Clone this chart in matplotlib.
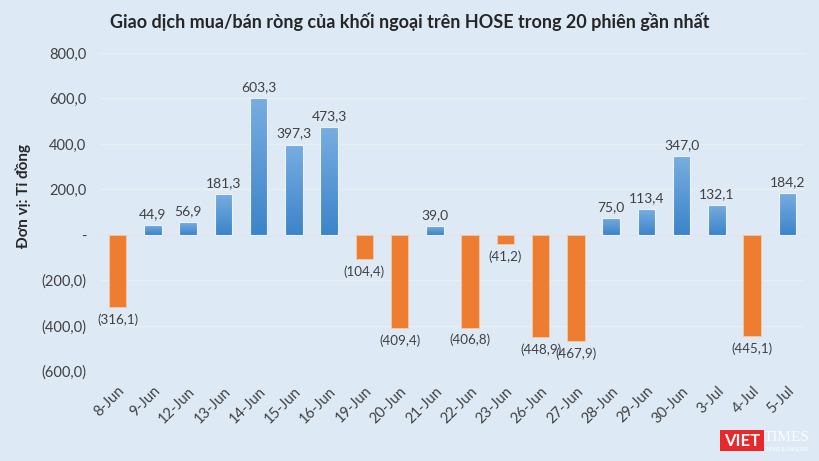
import matplotlib.pyplot as plt
import numpy as np
from matplotlib.patches import Rectangle

dates = ["8-Jun", "9-Jun", "12-Jun", "13-Jun", "14-Jun", "15-Jun", "16-Jun",
         "19-Jun", "20-Jun", "21-Jun", "22-Jun", "23-Jun", "26-Jun", "27-Jun",
         "28-Jun", "29-Jun", "30-Jun", "3-Jul", "4-Jul", "5-Jul"]
values = [-316.1, 44.9, 56.9, 181.3, 603.3, 397.3, 473.3, -104.4, -409.4, 39.0,
          -406.8, -41.2, -448.9, -467.9, 75.0, 113.4, 347.0, 132.1, -445.1, 184.2]
yticks = [-600, -400, -200, 0, 200, 400, 600, 800]

BG = "#DDEAF6"
ORANGE = "#ED7D31"
TXT = "#404040"


def fmt(v):
    s = f"{abs(v):.1f}".replace(".", ",")
    return f"({s})" if v < 0 else s


def main() -> None:
    plt.rcParams["font.family"] = ["Lato", "DejaVu Sans"]
    fig = plt.figure(figsize=(8.2, 4.61), dpi=100, facecolor=BG)
    ax = fig.add_axes([100 / 820, 1 - 371.5 / 461, 705 / 820, (371.5 - 53) / 461])
    ax.set_facecolor(BG)

    x = np.arange(len(dates))
    w = 0.49
    grad = np.linspace(0, 1, 100).reshape(-1, 1)
    blue_cmap = plt.matplotlib.colors.LinearSegmentedColormap.from_list(
        "b", ["#3C84CA", "#78ADE0"])
    for xi, v in zip(x, values):
        if v >= 0:
            rect = Rectangle((xi - w / 2, 0), w, v, facecolor="none",
                             edgecolor="#EAF2FA", linewidth=0.8, zorder=3)
            ax.add_patch(rect)
            im = ax.imshow(grad, extent=(xi - w / 2, xi + w / 2, 0, v),
                           origin="lower", aspect="auto", cmap=blue_cmap, zorder=2)
            im.set_clip_path(rect)
            ax.text(xi, v + 22, fmt(v), ha="center", va="bottom",
                    fontsize=10, color=TXT)
        else:
            ax.bar(xi, v, width=w, color=ORANGE, edgecolor="#F6C7A6",
                   linewidth=0.6, zorder=2)
            ax.text(xi, v - 28, fmt(v), ha="center", va="top",
                    fontsize=9.6, color=TXT)

    ax.set_xlim(-0.5, len(dates) - 0.5)
    ax.set_ylim(-600, 800)
    ax.set_yticks(yticks)
    ax.set_yticklabels(["-" if t == 0 else fmt(t) for t in yticks],
                       fontsize=10.5, color=TXT)
    for t in yticks:
        if t != 0:
            ax.axhline(t, color="#E9EEF3", linewidth=1.0, zorder=1)
    ax.axhline(0, color="#E4E4E8", linewidth=1.0, zorder=1)
    ax.vlines(np.arange(len(dates) + 1) - 0.5, 0, 10, color="#E4E4E8",
              linewidth=1.0, zorder=1)

    ax.set_xticks(x)
    ax.set_xticklabels(dates, rotation=45, ha="right", rotation_mode="anchor",
                       fontsize=10.5, color=TXT)
    ax.tick_params(axis="both", length=0)
    ax.tick_params(axis="x", pad=9)
    ax.tick_params(axis="y", pad=10)
    for sp in ax.spines.values():
        sp.set_visible(False)

    ax.set_ylabel("Đơn vị: Tỉ đồng", fontsize=11, fontweight="bold",
                  color="#262626")
    ax.yaxis.set_label_coords(-0.098, 0.55)

    fig.text(0.5, 1 - 22 / 461, "Giao dịch mua/bán ròng của khối ngoại trên HOSE trong 20 phiên gần nhất",
             ha="center", va="center", fontsize=13, fontweight="bold",
             color="#262626")

    # VietTimes logo
    fig.patches.append(Rectangle((720 / 820, 1 - 451 / 461), 44 / 820, 21 / 461,
                                 transform=fig.transFigure, facecolor="#E8282B",
                                 edgecolor="none"))
    fig.text(742 / 820, 1 - 440.5 / 461, "VIET", ha="center", va="center",
             fontsize=12, fontweight="bold", color="white")
    fig.text(787 / 820, 1 - 437 / 461, "TIMES", ha="center", va="center",
             fontsize=11, family="Liberation Serif", color="#FFFFFF", alpha=0.9)
    fig.text(787 / 820, 1 - 449 / 461, "NEWS & ANALYSIS", ha="center", va="center",
             fontsize=3.5, color="#FFFFFF")

    fig.savefig("out.png", dpi=100, facecolor=BG)


if __name__ == "__main__":
    main()
